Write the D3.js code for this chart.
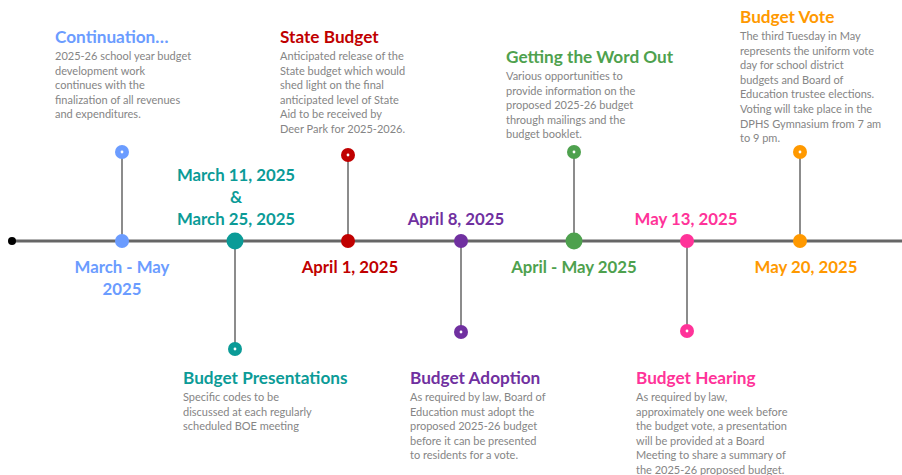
<!DOCTYPE html>
<html>
<head>
<meta charset="utf-8">
<script src="https://cdn.jsdelivr.net/npm/d3@7"></script>
<style>
  body { margin: 0; background: #fff; }
  svg { display: block; font-family: Lato, "Open Sans", sans-serif; }
</style>
</head>
<body>
<svg width="902" height="475"></svg>
<script>
var width = 902, height = 475;

// event data
var dateLabels = [
  ['March - May', '2025'],
  ['March 11, 2025', '&', 'March 25, 2025'],
  ['April 1, 2025'],
  ['April 8, 2025'],
  ['April - May 2025'],
  ['May 13, 2025'],
  ['May 20, 2025']
];
var titles = ['Continuation\u2026', 'Budget Presentations', 'State Budget', 'Budget Adoption',
  'Getting the Word Out', 'Budget Hearing', 'Budget Vote'];
var descriptions = [
  ['2025-26 school year budget', 'development work', 'continues with the', 'finalization of all revenues', 'and expenditures.'],
  ['Specific codes to be', 'discussed at each regularly', 'scheduled BOE meeting'],
  ['Anticipated release of the', 'State budget which would', 'shed light on the final', 'anticipated level of State', 'Aid to be received by', 'Deer Park for 2025-2026.'],
  ['As required by law, Board of', 'Education must adopt the', 'proposed 2025-26 budget', 'before it can be presented', 'to residents for a vote.'],
  ['Various opportunities to', 'provide information on the', 'proposed 2025-26 budget', 'through mailings and the', 'budget booklet.'],
  ['As required by law,', 'approximately one week before', 'the budget vote, a presentation', 'will be provided at a Board', 'Meeting to share a summary of', 'the 2025-26 proposed budget.'],
  ['The third Tuesday in May', 'represents the uniform vote', 'day for school district', 'budgets and Board of', 'Education trustee elections.', 'Voting will take place in the', 'DPHS Gymnasium from 7 am', 'to 9 pm.']
];
var colors = ['#6b9cff', '#0b9b97', '#c00000', '#7030a0', '#4ea14e', '#ff3399', '#ff9900'];
var sides = ['up', 'down', 'up', 'down', 'up', 'down', 'up'];

// layout per event (stem end, title baseline, title x offset, date label x offset)
var stemEnd = [152, 349, 155, 332, 152, 331, 152];
var titleY = [43, 384, 43, 384, 63, 384, 23];
var titleDx = [-67, -52, -68, -51, -68, -51, -60];
var labelDx = [0, 1, 2, -5, 0, -1, 6];
var bigDot = [7, 8.5, 7, 7, 8.5, 7, 7];

var lineY = 241;
var svg = d3.select('svg');

var x = d3.scaleLinear().domain([0, 6]).range([122, 800]);
var idx = d3.range(titles.length);

// main line
svg.append('line')
  .attr('x1', 12).attr('x2', width)
  .attr('y1', lineY).attr('y2', lineY)
  .attr('stroke', '#666').attr('stroke-width', 3);
svg.append('circle').attr('cx', 12).attr('cy', lineY).attr('r', 4).attr('fill', '#000');

var g = svg.selectAll('g.ev').data(idx).enter().append('g').attr('class', 'ev');

// stems
g.append('line')
  .attr('x1', function(i) { return x(i); })
  .attr('x2', function(i) { return x(i); })
  .attr('y1', lineY)
  .attr('y2', function(i) { return stemEnd[i]; })
  .attr('stroke', '#666').attr('stroke-width', 1.5);

// end dots
g.append('circle')
  .attr('cx', function(i) { return x(i); })
  .attr('cy', function(i) { return stemEnd[i]; })
  .attr('r', 7)
  .attr('fill', function(i) { return colors[i]; });
g.append('circle')
  .attr('cx', function(i) { return x(i); })
  .attr('cy', function(i) { return stemEnd[i]; })
  .attr('r', 1.4)
  .attr('fill', '#fff');

// dots on line
g.append('circle')
  .attr('cx', function(i) { return x(i); })
  .attr('cy', lineY)
  .attr('r', function(i) { return bigDot[i]; })
  .attr('fill', function(i) { return colors[i]; });

// date labels (below line for 'up' events, above for 'down')
g.each(function(i) {
  var lines = dateLabels[i];
  var t = d3.select(this).append('text')
    .attr('text-anchor', 'middle')
    .attr('font-weight', 'bold')
    .attr('font-size', 16.8)
    .attr('fill', colors[i]);
  var y0;
  if (sides[i] === 'up') y0 = lineY + 32;
  else y0 = lineY - 16 - (lines.length - 1) * 22;
  lines.forEach(function(s, k) {
    t.append('tspan')
      .attr('x', x(i) + labelDx[i])
      .attr('y', y0 + k * 22)
      .text(s);
  });
});

// titles + descriptions
g.append('text')
  .attr('x', function(i) { return x(i) + titleDx[i]; })
  .attr('y', function(i) { return titleY[i]; })
  .attr('font-weight', 'bold')
  .attr('font-size', 17.2)
  .attr('fill', function(i) { return colors[i]; })
  .text(function(i) { return titles[i]; });

g.each(function(i) {
  var t = d3.select(this).append('text')
    .attr('font-size', 11)
    .attr('fill', '#858585');
  descriptions[i].forEach(function(s, k) {
    t.append('tspan')
      .attr('x', x(i) + titleDx[i])
      .attr('y', titleY[i] + 17 + k * 14.6)
      .text(s);
  });
});
</script>
</body>
</html>
